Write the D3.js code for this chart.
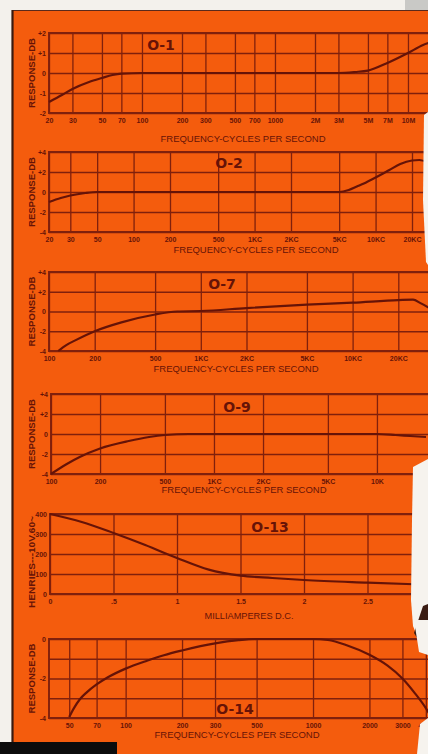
<!DOCTYPE html>
<html>
<head>
<meta charset="utf-8">
<script src="https://cdn.jsdelivr.net/npm/d3@7"></script>
<style>
  html, body { margin: 0; padding: 0; background: #f3f1ec; overflow: hidden; }
  svg { display: block; }
</style>
</head>
<body>
<script>
// O-1
var o1TickVals = [20, 30, 50, 70, 100, 200, 300, 500, 700, 1000, 2000, 3000, 5000, 7000, 10000, 15000];
var o1TickLabels = ["20", "30", "50", "70", "100", "200", "300", "500", "700", "1000", "2M", "3M", "5M", "7M", "10M", "15M"];
var o1Freq = [20, 25, 30, 40, 50, 60, 70, 100, 1000, 3000, 4000, 5000, 7000, 10000, 13000, 16000];
var o1Db = [-1.45, -1.1, -0.8, -0.45, -0.25, -0.1, -0.03, 0, 0, 0, 0.05, 0.12, 0.5, 1.0, 1.4, 1.6];
var o1YTicks = [-2, -1, 0, 1, 2];
var o1YLabels = ["-2", "-1", "0", "+1", "+2"];

// O-2
var o2TickVals = [20, 30, 50, 100, 200, 500, 1000, 2000, 5000, 10000, 20000];
var o2TickLabels = ["20", "30", "50", "100", "200", "500", "1KC", "2KC", "5KC", "10KC", "20KC"];
var o2Freq = [20, 25, 30, 40, 50, 100, 1000, 5000, 6000, 7000, 8000, 10000, 13000, 16000, 20000, 23000, 27000];
var o2Db = [-1.0, -0.6, -0.35, -0.1, 0, 0, 0, 0, 0.2, 0.55, 0.85, 1.45, 2.2, 2.8, 3.15, 3.2, 2.95];

// O-7
var o7TickVals = [100, 200, 500, 1000, 2000, 5000, 10000, 20000, 40000];
var o7TickLabels = ["100", "200", "500", "1KC", "2KC", "5KC", "10KC", "20KC", "40KC"];
var o7Freq = [115, 130, 150, 200, 300, 500, 700, 1000, 2000, 5000, 10000, 20000, 25000, 28000, 32000];
var o7Db = [-4, -3.4, -2.9, -2.0, -1.1, -0.3, 0, 0.05, 0.35, 0.7, 0.9, 1.15, 1.2, 0.85, 0.35];

// O-9
var o9TickVals = [100, 200, 500, 1000, 2000, 5000, 10000];
var o9TickLabels = ["100", "200", "500", "1KC", "2KC", "5KC", "10K"];
var o9Freq = [100, 125, 150, 200, 300, 400, 500, 700, 1000, 10000, 13000, 16000, 20000];
var o9Db = [-4, -3.0, -2.3, -1.45, -0.7, -0.3, -0.1, 0, 0, 0, -0.1, -0.2, -0.3];

// shared +-4 dB axis for O-2, O-7, O-9
var db4Ticks = [-4, -2, 0, 2, 4];
var db4Labels = ["-4", "-2", "0", "+2", "+4"];

// O-13 (henries vs milliamperes)
var o13TickVals = [0, 0.5, 1, 1.5, 2, 2.5];
var o13TickLabels = ["0", ".5", "1", "1.5", "2", "2.5"];
var o13Ma = [0, 0.25, 0.5, 0.75, 1.0, 1.25, 1.5, 1.75, 2.0, 2.5, 2.9];
var o13Henries = [400, 360, 305, 245, 180, 122, 92, 80, 70, 57, 48];
var o13YTicks = [0, 100, 200, 300, 400];
var o13YLabels = ["0", "100", "200", "300", "400"];

// O-14
var o14TickVals = [50, 70, 100, 200, 300, 500, 1000, 2000, 3000, 4000];
var o14TickLabels = ["50", "70", "100", "200", "300", "500", "1000", "2000", "3000", "4000"];
var o14Freq = [50, 53, 57, 62, 70, 80, 100, 130, 160, 200, 300, 400, 500, 1000, 1200, 1500, 2000, 2500, 3000, 3500, 4000, 4300];
var o14Db = [-3.95, -3.5, -3.05, -2.7, -2.3, -1.95, -1.5, -1.1, -0.82, -0.58, -0.22, -0.06, 0, 0, -0.05, -0.3, -0.8, -1.35, -2.0, -2.75, -3.5, -4];
var o14YTicks = [-4, -3, -2, -1, 0];
var o14YLabels = ["-4", "", "-2", "", "0"];

// ---- look ----
var W = 428, H = 754;
var ORANGE = "#f45c0d";
var GRID = "#80200c";
var INK = "#661307";
var FONT = "'Liberation Sans', Arial, sans-serif";

var svg = d3.select("body").append("svg")
    .attr("width", W)
    .attr("height", H);

// paper: white margins, orange card
svg.append("rect").attr("width", W).attr("height", H).attr("fill", "#f3f1ec");
svg.append("rect").attr("x", 405).attr("y", 0).attr("width", 23).attr("height", 16).attr("fill", "#c9c9c6");
svg.append("rect").attr("x", 12).attr("y", 10).attr("width", W - 12).attr("height", H - 10).attr("fill", ORANGE);
svg.append("line").attr("x1", 12).attr("x2", W).attr("y1", 10.5).attr("y2", 10.5)
    .attr("stroke", "#5a2a1c").attr("stroke-width", 1.2);
svg.append("line").attr("x1", 12.5).attr("x2", 12.5).attr("y1", 10).attr("y2", H)
    .attr("stroke", "#3a1a10").attr("stroke-width", 2.2);

var panels = [
    { name: "O-1", x: d3.scaleLog().domain([20, 20000]).range([49, 448]),
      y: d3.scaleLinear().domain([-2, 2]).range([113, 33]),
      ticks: o1TickVals, labels: o1TickLabels, yTicks: o1YTicks, yLabels: o1YLabels,
      xs: o1Freq, ys: o1Db, right: W,
      title: [161, 45], axisTitle: "FREQUENCY-CYCLES PER SECOND", axisTitleAt: [243, 142], yTitle: "RESPONSE-DB" },
    { name: "O-2", x: d3.scaleLog().domain([20, 20000]).range([49, 412]),
      y: d3.scaleLinear().domain([-4, 4]).range([232, 152]),
      ticks: o2TickVals, labels: o2TickLabels, yTicks: db4Ticks, yLabels: db4Labels,
      xs: o2Freq, ys: o2Db, right: W,
      title: [229, 163], axisTitle: "FREQUENCY-CYCLES PER SECOND", axisTitleAt: [256, 253], yTitle: "RESPONSE-DB" },
    { name: "O-7", x: d3.scaleLog().domain([100, 40000]).range([49, 444]),
      y: d3.scaleLinear().domain([-4, 4]).range([351, 272]),
      ticks: o7TickVals, labels: o7TickLabels, yTicks: db4Ticks, yLabels: db4Labels,
      xs: o7Freq, ys: o7Db, right: W,
      title: [222, 284], axisTitle: "FREQUENCY-CYCLES PER SECOND", axisTitleAt: [236, 372], yTitle: "RESPONSE-DB" },
    { name: "O-9", x: d3.scaleLog().domain([100, 20000]).range([51, 426]),
      y: d3.scaleLinear().domain([-4, 4]).range([474, 394]),
      ticks: o9TickVals, labels: o9TickLabels, yTicks: db4Ticks, yLabels: db4Labels,
      xs: o9Freq, ys: o9Db, right: W,
      title: [237, 407], axisTitle: "FREQUENCY-CYCLES PER SECOND", axisTitleAt: [244, 493], yTitle: "RESPONSE-DB" },
    { name: "O-13", x: d3.scaleLinear().domain([0, 3]).range([50, 431]),
      y: d3.scaleLinear().domain([0, 400]).range([594, 514]),
      ticks: o13TickVals, labels: o13TickLabels, yTicks: o13YTicks, yLabels: o13YLabels,
      xs: o13Ma, ys: o13Henries, right: 414,
      title: [270, 527], axisTitle: "MILLIAMPERES D.C.", axisTitleAt: [249, 619], yTitle: "HENRIES---10V.60~" },
    { name: "O-14", x: d3.scaleLog().domain([39, 5000]).range([49, 444]),
      y: d3.scaleLinear().domain([-4, 0]).range([718, 639]),
      ticks: o14TickVals, labels: o14TickLabels, yTicks: o14YTicks, yLabels: o14YLabels,
      xs: o14Freq, ys: o14Db, right: W,
      title: [235, 709], axisTitle: "FREQUENCY-CYCLES PER SECOND", axisTitleAt: [237, 738], yTitle: "RESPONSE-DB" }
];

panels.forEach(function(p, k) {
    var left = p.x.range()[0];
    var top = p.y.range()[1], bottom = p.y.range()[0];
    var plotW = p.right - left, plotH = bottom - top;
    var g = svg.append("g");

    var clipId = "clip" + k;
    svg.append("clipPath").attr("id", clipId)
        .append("rect").attr("x", left - 1).attr("y", top - 3).attr("width", plotW + 1).attr("height", plotH + 6);

    // vertical grid + frequency labels
    var xAxis = g.append("g")
        .attr("transform", "translate(0," + bottom + ")")
        .call(d3.axisBottom(p.x)
            .tickValues(p.ticks)
            .tickFormat(function(d, i) { return p.labels[i]; })
            .tickSize(-plotH)
            .tickPadding(5));
    xAxis.select(".domain").remove();
    xAxis.selectAll("line").attr("stroke", GRID).attr("stroke-width", 1.3);
    xAxis.selectAll("text")
        .attr("fill", INK).attr("font-family", FONT).attr("font-weight", "bold")
        .attr("font-size", 7);
    xAxis.selectAll(".tick").filter(function(d) { return p.x(d) > p.right + 6; }).remove();

    // horizontal grid + response labels
    var yAxis = g.append("g")
        .attr("transform", "translate(" + left + ",0)")
        .call(d3.axisLeft(p.y)
            .tickValues(p.yTicks)
            .tickFormat(function(d, i) { return p.yLabels[i]; })
            .tickSize(-plotW)
            .tickPadding(3));
    yAxis.select(".domain").remove();
    yAxis.selectAll("line").attr("stroke", GRID).attr("stroke-width", 1.4);
    yAxis.selectAll("text")
        .attr("fill", INK).attr("font-family", FONT).attr("font-weight", "bold")
        .attr("font-size", 7);

    // frame
    g.append("path")
        .attr("d", "M" + p.right + "," + top + "H" + left + "V" + bottom + "H" + p.right)
        .attr("fill", "none").attr("stroke", GRID).attr("stroke-width", 1.9);

    // response curve
    var line = d3.line()
        .x(function(d, i) { return p.x(p.xs[i]); })
        .y(function(d) { return p.y(d); })
        .curve(d3.curveMonotoneX);
    g.append("path")
        .datum(p.ys)
        .attr("clip-path", "url(#" + clipId + ")")
        .attr("d", line)
        .attr("fill", "none")
        .attr("stroke", INK)
        .attr("stroke-width", 2.2)
        .attr("stroke-linejoin", "round");

    // sheet number
    g.append("text")
        .attr("x", p.title[0]).attr("y", p.title[1])
        .attr("text-anchor", "middle").attr("dy", "0.36em")
        .attr("font-family", "'DejaVu Sans', sans-serif").attr("font-weight", "bold")
        .attr("font-size", 14).attr("fill", INK)
        .text(p.name);

    // axis titles
    g.append("text")
        .attr("x", p.axisTitleAt[0]).attr("y", p.axisTitleAt[1])
        .attr("text-anchor", "middle")
        .attr("font-family", FONT).attr("font-size", 8.5).attr("fill", INK)
        .attr("textLength", p.axisTitle.length > 20 ? 165 : 89)
        .attr("lengthAdjust", "spacingAndGlyphs")
        .text(p.axisTitle);

    g.append("text")
        .attr("transform", "translate(35," + ((top + bottom) / 2 + (k === 4 ? 8 : 0)) + ") rotate(-90)")
        .attr("text-anchor", "middle")
        .attr("font-family", FONT).attr("font-weight", "bold").attr("font-size", 8.5).attr("fill", INK)
        .attr("textLength", k === 4 ? 92 : 70)
        .attr("lengthAdjust", "spacingAndGlyphs")
        .text(p.yTitle);
});

// torn paper on the right edge and the dark corner at the bottom
var paper = "#f6f3ee";
svg.append("polygon")
    .attr("points", "424,115 428,112 428,265 426,262 423,200")
    .attr("fill", paper);
svg.append("polygon")
    .attr("points", "413,467 428,459 428,641 419,641 413,626 411,600 412,520")
    .attr("fill", paper);
svg.append("polygon")
    .attr("points", "414,633 423,606 428,604 428,624 419,641")
    .attr("fill", "#3b1d14");
svg.append("polygon")
    .attr("points", "414,620 428,620 428,655 419,652")
    .attr("fill", paper);
svg.append("polygon")
    .attr("points", "420,724 428,718 428,754 417,754")
    .attr("fill", paper);
svg.append("rect")
    .attr("x", 0).attr("y", 742).attr("width", 117).attr("height", 12)
    .attr("fill", "#0c0c0c");
</script>
</body>
</html>
